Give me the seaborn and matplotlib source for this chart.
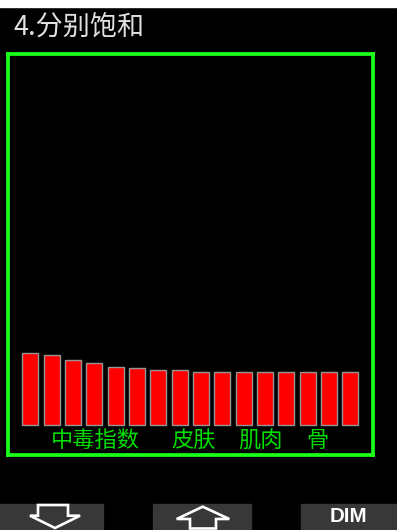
import numpy as np
import pandas as pd
import matplotlib.pyplot as plt
from matplotlib.patches import Rectangle, Polygon
import seaborn as sns

# data: tissue compartment saturation (% of full scale)
compartments = [str(i) for i in range(1, 17)]
saturation = [19.4, 18.9, 17.6, 16.7, 15.8, 15.3, 14.9, 14.9,
              14.4, 14.4, 14.4, 14.4, 14.4, 14.4, 14.4, 14.4]
group_labels = ["中毒指数", "皮肤", "肌肉", "骨"]
group_pos = [3.03, 7.65, 10.77, 13.46]
title = "4.分别饱和"

sns.set_style("dark")
plt.rcParams['font.family'] = ['Noto Sans CJK SC', 'DejaVu Sans']

W, H = 397, 530
fig = plt.figure(figsize=(W / 100, H / 100), dpi=100, facecolor="black")


def fx(px):
    return px / W


def fy(py):
    return 1 - py / H


# main box (green frame) = axes
ax = fig.add_axes([fx(7.75), fy(454.8), fx(372.5) - fx(7.75), fy(54.4) - fy(454.8)])
ax.set_facecolor("black")

df = pd.DataFrame({"compartment": compartments, "saturation": saturation})
sns.barplot(data=df, x="compartment", y="saturation", ax=ax, color="#ff0000",
            saturation=1, edgecolor="#959595", linewidth=1.0, width=0.76)

ax.set_xlim(-1.06, 16.04)
ax.set_ylim(-8.06, 100.24)
ax.set_xticks([])
ax.set_yticks([])
ax.set_xlabel("")
ax.set_ylabel("")
ax.grid(False)
for s in ax.spines.values():
    s.set_visible(True)
    s.set_color("#1aff1a")
    s.set_linewidth(2.7)

for lab, xp in zip(group_labels, group_pos):
    ax.text(xp, -4.2, lab, color="#00dd00", fontsize=16, ha="center", va="center")

# white strip at top of the screenshot
fig.patches.append(Rectangle((0, fy(7)), 1, 7 / H, transform=fig.transFigure,
                             color="white", zorder=0))

fig.text(fx(14), fy(27.5), title, color="#e0e0e0", fontsize=19.5, ha="left", va="center")

# bottom buttons
for x0, x1 in [(0, 103), (152.7, 250.7), (300.7, 397)]:
    fig.patches.append(Rectangle((fx(x0), 0), fx(x1) - fx(x0), 26 / H,
                                 transform=fig.transFigure, color="#383838", zorder=1))

down = [(38, 505), (68, 505), (68, 515.7), (80, 515.7), (55, 528), (30, 515.7), (38, 515.7)]
up = [(202.7, 506.7), (229.3, 519), (216, 519), (216, 528.5), (190, 528.5), (190, 519), (176.7, 519)]
for pts in (down, up):
    fig.patches.append(Polygon([(fx(a), fy(b)) for a, b in pts], closed=True, fill=False,
                               edgecolor="white", linewidth=1.9, transform=fig.transFigure, zorder=2))

fig.text(fx(348), fy(516.5), "DIM", color="white", fontsize=14.8, fontweight="bold",
         family="Liberation Sans", ha="center", va="center")

fig.savefig("out.png", dpi=100, facecolor="black")
